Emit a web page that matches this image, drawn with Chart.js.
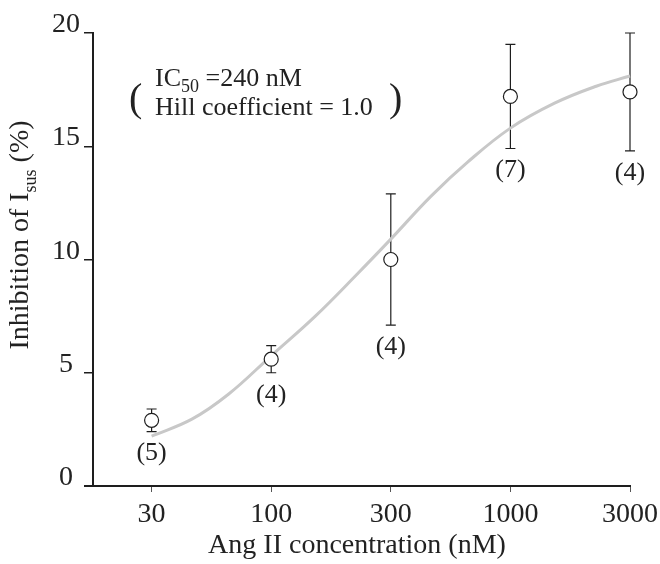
<!DOCTYPE html>
<html>
<head>
<meta charset="utf-8">
<script src="https://cdn.jsdelivr.net/npm/chart.js@4.4.1/dist/chart.umd.min.js"></script>
<style>
  html, body { margin: 0; padding: 0; background: #fff; }
</style>
</head>
<body>
<canvas id="chart" width="660" height="564"></canvas>
<script>
// axis ticks
const tickConc = [30, 100, 300, 1000, 3000];
const tickLabels = ['30', '100', '300', '1000', '3000'];
const yTicks = [0, 5, 10, 15, 20];

// measured points (mean, error bar ends, n)
const conc = [30, 100, 300, 1000, 3000];
const inhibition = [2.9, 5.6, 10.0, 17.2, 17.4];
const errLow = [2.4, 5.0, 7.1, 14.9, 14.8];
const errHigh = [3.4, 6.2, 12.9, 19.5, 20.0];
const nCells = ['(5)', '(4)', '(4)', '(7)', '(4)'];

// fitted Hill curve
const fitConc = [30, 45, 65, 100, 150, 220, 300, 450, 650, 1000, 1500, 2200, 3000];
const fitValue = [2.2, 2.95, 4.05, 5.75, 7.5, 9.35, 10.9, 12.8, 14.3, 15.8, 16.9, 17.65, 18.1];

const FONT = '"Liberation Serif", "DejaVu Serif", serif';
const ink = '#1e1e1e';

// ticks are equally spaced on the axis, log in between
function concToPos(c) {
  for (let i = 0; i < tickConc.length - 1; i++) {
    const a = tickConc[i], b = tickConc[i + 1];
    if (c <= b || i === tickConc.length - 2) {
      return i + Math.log(c / a) / Math.log(b / a);
    }
  }
}

const extras = {
  id: 'extras',
  beforeDatasetsDraw(chart) {
    const { ctx, scales: { x, y } } = chart;
    ctx.save();
    ctx.strokeStyle = ink;
    ctx.lineWidth = 1.2;
    conc.forEach((c, i) => {
      const px = x.getPixelForValue(concToPos(c));
      const lo = y.getPixelForValue(errLow[i]);
      const hi = y.getPixelForValue(errHigh[i]);
      ctx.beginPath();
      ctx.moveTo(px, lo); ctx.lineTo(px, hi);
      ctx.moveTo(px - 5, lo); ctx.lineTo(px + 5, lo);
      ctx.moveTo(px - 5, hi); ctx.lineTo(px + 5, hi);
      ctx.stroke();
    });
    ctx.restore();
  },
  afterDraw(chart) {
    const { ctx, scales: { x, y } } = chart;
    ctx.save();
    ctx.fillStyle = '#222';

    // tick labels
    ctx.font = '28px ' + FONT;
    ctx.textAlign = 'center';
    ctx.textBaseline = 'alphabetic';
    tickLabels.forEach((t, i) => {
      ctx.fillText(t, x.getPixelForValue(i), 522);
    });
    yTicks.forEach(v => {
      ctx.fillText(String(v), 66, y.getPixelForValue(v) - 1);
    });

    // x title
    ctx.font = '28px ' + FONT;
    ctx.fillText('Ang II concentration (nM)', 357, 553);

    // y title with subscript
    ctx.save();
    ctx.translate(28, 235);
    ctx.rotate(-Math.PI / 2);
    ctx.textAlign = 'left';
    const big = '28px ' + FONT, small = '18px ' + FONT;
    ctx.font = big;
    const p1 = 'Inhibition of I', p3 = ' (%)';
    const w1 = ctx.measureText(p1).width, w3 = ctx.measureText(p3).width;
    ctx.font = small;
    const w2 = ctx.measureText('sus').width;
    let sx = -(w1 + w2 + w3) / 2;
    ctx.font = big; ctx.fillText(p1, sx, 0); sx += w1;
    ctx.font = small; ctx.fillText('sus', sx, 8); sx += w2;
    ctx.font = big; ctx.fillText(p3, sx, 0);
    ctx.restore();

    // n per point
    ctx.font = '26px ' + FONT;
    ctx.textAlign = 'center';
    ctx.textBaseline = 'middle';
    conc.forEach((c, i) => {
      ctx.fillText(nCells[i], x.getPixelForValue(concToPos(c)), y.getPixelForValue(errLow[i]) + 22);
    });

    // fit parameters
    ctx.textAlign = 'left';
    ctx.textBaseline = 'alphabetic';
    ctx.font = '26px ' + FONT;
    let ax = 155;
    ctx.fillText('IC', ax, 86);
    ax += ctx.measureText('IC').width;
    ctx.font = '18px ' + FONT;
    ctx.fillText('50', ax, 92);
    ax += ctx.measureText('50').width;
    ctx.font = '26px ' + FONT;
    ctx.fillText(' =240 nM', ax, 86);
    ctx.fillText('Hill coefficient = 1.0', 155, 115);
    ctx.font = '40px ' + FONT;
    ctx.textBaseline = 'middle';
    ctx.fillText('(', 129, 100);
    ctx.fillText(')', 389, 100);
    ctx.restore();
  }
};

new Chart(document.getElementById('chart'), {
  data: {
    datasets: [{
      type: 'line',
      data: fitConc.map((c, i) => ({ x: concToPos(c), y: fitValue[i] })),
      borderColor: '#c8c8c8',
      borderWidth: 3,
      pointRadius: 0,
      tension: 0.4,
      clip: false,
      order: 2
    }, {
      type: 'scatter',
      data: conc.map((c, i) => ({ x: concToPos(c), y: inhibition[i] })),
      pointStyle: 'circle',
      pointRadius: 7,
      pointHoverRadius: 7,
      backgroundColor: '#fff',
      borderColor: ink,
      borderWidth: 1.2,
      clip: false,
      order: 1
    }]
  },
  options: {
    responsive: false,
    animation: false,
    events: [],
    layout: { padding: { left: 0, top: 33, right: 30, bottom: 0 } },
    plugins: { legend: { display: false }, tooltip: { enabled: false } },
    scales: {
      x: {
        type: 'linear',
        min: -0.49,
        max: 4,
        afterBuildTicks: s => { s.ticks = tickConc.map((c, i) => ({ value: i })); },
        afterFit: s => { s.height = 78; },
        ticks: { display: false },
        grid: { drawOnChartArea: false, tickLength: 6, color: '#555', lineWidth: 1 },
        border: { display: true, color: ink, width: 2 }
      },
      y: {
        min: 0,
        max: 20,
        afterBuildTicks: s => { s.ticks = yTicks.map(v => ({ value: v })); },
        afterFit: s => { s.width = 93; },
        ticks: { display: false },
        grid: { drawOnChartArea: false, tickLength: 9, color: ink, lineWidth: c => c.tick && c.tick.value === 0 ? 2 : 1.5 },
        border: { display: true, color: ink, width: 2 }
      }
    }
  },
  plugins: [extras]
});
</script>
</body>
</html>
